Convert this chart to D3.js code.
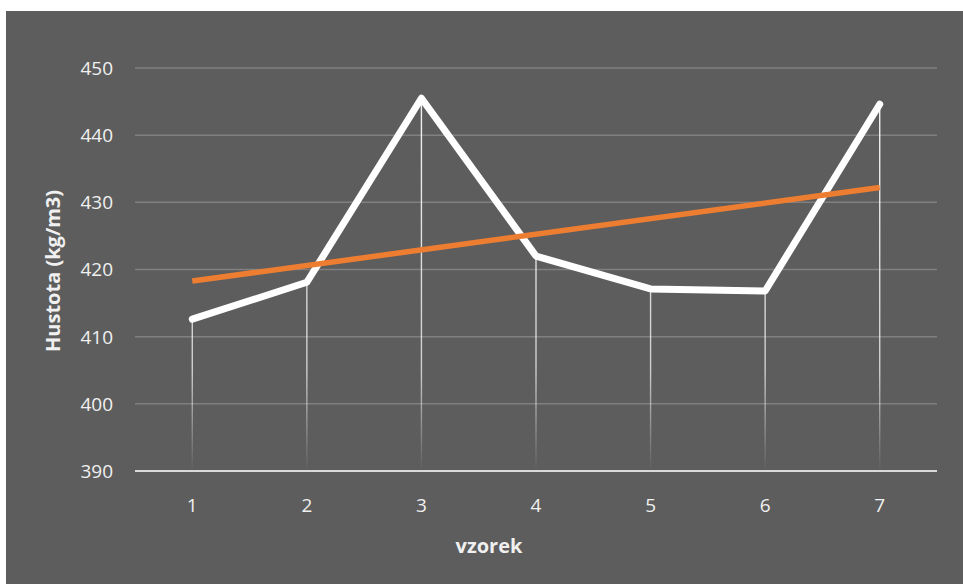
<!DOCTYPE html>
<html>
<head>
<meta charset="utf-8">
<script src="https://cdn.jsdelivr.net/npm/d3@7"></script>
<style>
  html, body { margin: 0; padding: 0; background: #ffffff; }
  svg { display: block; }
</style>
</head>
<body>
<svg id="chart" width="963" height="584"></svg>
<script>
// Sample densities (kg/m3) for samples 1..7
const samples = ["1", "2", "3", "4", "5", "6", "7"];
const density = [412.6, 418.1, 445.5, 422.0, 417.1, 416.8, 444.6];
const yTicks = [390, 400, 410, 420, 430, 440, 450];
const xTitle = "vzorek";
const yTitle = "Hustota (kg/m3)";

const svg = d3.select("#chart");
const W = 963, H = 584;
const frame = { x: 6, y: 11 };
const plot = { left: 135, right: 937, top: 68, bottom: 471 };
const font = "'Open Sans', 'Liberation Sans', sans-serif";

// chart background
svg.append("rect")
  .attr("x", frame.x).attr("y", frame.y)
  .attr("width", W - frame.x).attr("height", H - frame.y)
  .attr("fill", "#5d5d5d");

const x = d3.scaleBand().domain(samples).range([plot.left, plot.right]);
const y = d3.scaleLinear().domain([390, 450]).range([plot.bottom, plot.top]);
const cx = s => x(s) + x.bandwidth() / 2;

// fading gradient for the drop lines
const defs = svg.append("defs");
const grad = defs.append("linearGradient")
  .attr("id", "dropFade")
  .attr("gradientUnits", "userSpaceOnUse")
  .attr("x1", 0).attr("x2", 0)
  .attr("y1", plot.top).attr("y2", plot.bottom);
grad.append("stop").attr("offset", 0).attr("stop-color", "#ffffff").attr("stop-opacity", 0.95);
grad.append("stop").attr("offset", 0.75).attr("stop-color", "#ffffff").attr("stop-opacity", 0.7);
grad.append("stop").attr("offset", 1).attr("stop-color", "#ffffff").attr("stop-opacity", 0);

// horizontal gridlines
svg.append("g")
  .selectAll("line")
  .data(yTicks.filter(t => t !== 390))
  .join("line")
  .attr("x1", plot.left).attr("x2", plot.right)
  .attr("y1", d => y(d)).attr("y2", d => y(d))
  .attr("stroke", "#808080")
  .attr("stroke-width", 1.5);

// drop lines from each point to the axis
svg.append("g")
  .selectAll("line")
  .data(samples)
  .join("line")
  .attr("x1", (d) => cx(d)).attr("x2", (d) => cx(d))
  .attr("y1", (d, i) => y(density[i]))
  .attr("y2", plot.bottom)
  .attr("stroke", "url(#dropFade)")
  .attr("stroke-width", 1.4);

// category axis line
svg.append("line")
  .attr("x1", plot.left).attr("x2", plot.right)
  .attr("y1", plot.bottom).attr("y2", plot.bottom)
  .attr("stroke", "#d9d9d9")
  .attr("stroke-width", 2);

// y tick labels
svg.append("g")
  .selectAll("text")
  .data(yTicks)
  .join("text")
  .attr("x", 113)
  .attr("y", d => y(d))
  .attr("dy", "0.36em")
  .attr("text-anchor", "end")
  .attr("font-family", font)
  .attr("font-size", 19)
  .attr("fill", "#f0f0f0")
  .text(d => d);

// x tick labels
svg.append("g")
  .selectAll("text")
  .data(samples)
  .join("text")
  .attr("x", d => cx(d))
  .attr("y", 505)
  .attr("dy", "0.36em")
  .attr("text-anchor", "middle")
  .attr("font-family", font)
  .attr("font-size", 19)
  .attr("fill", "#f0f0f0")
  .text(d => d);

// axis titles
svg.append("text")
  .attr("x", 489).attr("y", 546)
  .attr("dy", "0.36em")
  .attr("text-anchor", "middle")
  .attr("font-family", font)
  .attr("font-weight", "bold")
  .attr("font-size", 20)
  .attr("fill", "#f0f0f0")
  .text(xTitle);

svg.append("text")
  .attr("transform", "translate(53,271) rotate(-90)")
  .attr("dy", "0.36em")
  .attr("text-anchor", "middle")
  .attr("font-family", font)
  .attr("font-weight", "bold")
  .attr("font-size", 20)
  .attr("fill", "#f0f0f0")
  .text(yTitle);

// linear trend through the density series
const idx = density.map((_, i) => i + 1);
const mx = d3.mean(idx), my = d3.mean(density);
const slope = d3.sum(idx, (v, i) => (v - mx) * (density[i] - my)) / d3.sum(idx, v => (v - mx) ** 2);
const icpt = my - slope * mx;
const trend = samples.map((s, i) => ({ s, v: icpt + slope * (i + 1) }));

const line = d3.line().x(d => cx(d.s)).y(d => y(d.v));

// density series
svg.append("path")
  .datum(samples.map((s, i) => ({ s, v: density[i] })))
  .attr("d", line)
  .attr("fill", "none")
  .attr("stroke", "#ffffff")
  .attr("stroke-width", 7)
  .attr("stroke-linejoin", "round")
  .attr("stroke-linecap", "round");

// trend line
svg.append("path")
  .datum([trend[0], trend[trend.length - 1]])
  .attr("d", line)
  .attr("fill", "none")
  .attr("stroke", "#ed7d31")
  .attr("stroke-width", 5.5)
  .attr("stroke-linecap", "butt");
</script>
</body>
</html>
